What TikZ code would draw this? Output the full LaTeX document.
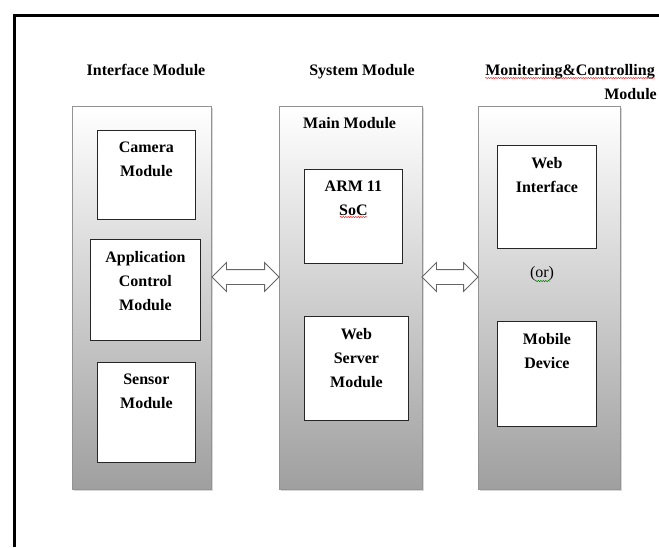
\documentclass[tikz,border=0pt]{standalone}
\usepackage{fontspec}
\setmainfont{Liberation Serif}
\usetikzlibrary{shapes.arrows,shadows,decorations.pathmorphing}

\begin{document}
\begin{tikzpicture}[x=1pt,y=-1pt,
  module/.style={draw=gray!85,top color=white,bottom color=gray!75,anchor=north west,inner sep=0pt,
    drop shadow={opacity=0.3,shadow xshift=1.5pt,shadow yshift=-1.5pt}},
  unit/.style={draw=black!85,fill=white,line width=0.8pt,anchor=north west,inner sep=0pt},
  unittext/.style={anchor=north,align=center,font=\fontsize{16}{24}\selectfont\bfseries,yshift=-9pt,inner sep=3pt},
  heading/.style={font=\fontsize{16}{19}\selectfont\bfseries,inner sep=0pt},
  link/.style={double arrow,draw=black!60,line width=0.8pt,fill=white,inner xsep=0pt,inner ysep=7pt,
    text height=0pt,text depth=0pt,double arrow head extend=7pt},
  spell/.style={decorate,decoration={snake,amplitude=0.7pt,segment length=2.5pt},line width=0.5pt}]
\useasboundingbox (0,0) rectangle (659,547);
\fill[white] (0,0) rectangle (659,547);
% frame
\draw[line width=3pt,line join=miter] (14.5,547) -- (14.5,15) -- (659,15);

% headings
\node[heading,anchor=base] (ifacehd) at (146,75) {Interface Module};
\node[heading,anchor=base] (syshd) at (362,75) {System Module};
\node[heading,anchor=base] (monhd) at (570,75) {Monitering\&Controlling};
\node[heading,anchor=base east] (monhd2) at (657,99) {Module};

% big modules
\node[module,minimum width=139pt,minimum height=383pt] (iface) at (72,106) {};
\node[module,minimum width=143pt,minimum height=383pt] (sysm) at (279,106) {};
\node[module,minimum width=142pt,minimum height=383pt] (mon) at (478,106) {};

% interface module
\node[unit,minimum width=98pt,minimum height=89pt] (cam) at (97,130) {};
\node[unittext] (camtxt) at (cam.north) {Camera\\Module};
\node[unit,minimum width=110pt,minimum height=101pt] (app) at (90,239) {};
\node[unittext] (apptxt) at (app.north) {Application\\Control\\Module};
\node[unit,minimum width=98pt,minimum height=100pt] (sen) at (97,362) {};
\node[unittext] (sentxt) at (sen.north) {Sensor\\Module};

% system module
\node[heading,anchor=base west] (mainhd) at (303,128) {Main Module};
\node[unit,minimum width=98pt,minimum height=94pt] (arm) at (304,169) {};
\node[unittext] (armtxt) at (arm.north) {ARM 11\\SoC};
\node[unit,minimum width=104pt,minimum height=104pt] (web) at (304,316) {};
\node[unittext] (webtxt) at (web.north) {Web\\Server\\Module};

% monitoring module
\node[unit,minimum width=99pt,minimum height=103pt] (wif) at (497,145) {};
\node[unittext] (wiftxt) at (wif.north) {Web\\Interface};
\node[font=\fontsize{16}{19}\selectfont,anchor=base,inner sep=0pt] (or) at (542,277) {(or)};
\node[unit,minimum width=99pt,minimum height=105pt] (mob) at (497,321) {};
\node[unittext] (mobtxt) at (mob.north) {Mobile\\Device};

% links
\node[link,minimum height=67pt] (link1) at (245.5,277) {};
\node[link,minimum height=56pt] (link2) at (450,277) {};

% spelling marks
\draw[spell,red!80] ([yshift=-3pt]monhd.base west) -- ([yshift=-3pt]monhd.base east);
\draw[spell,red!80] (340,217) -- (367,217);
\draw[spell,green!50!black] (535,281) -- (550,281);
\end{tikzpicture}
\end{document}
